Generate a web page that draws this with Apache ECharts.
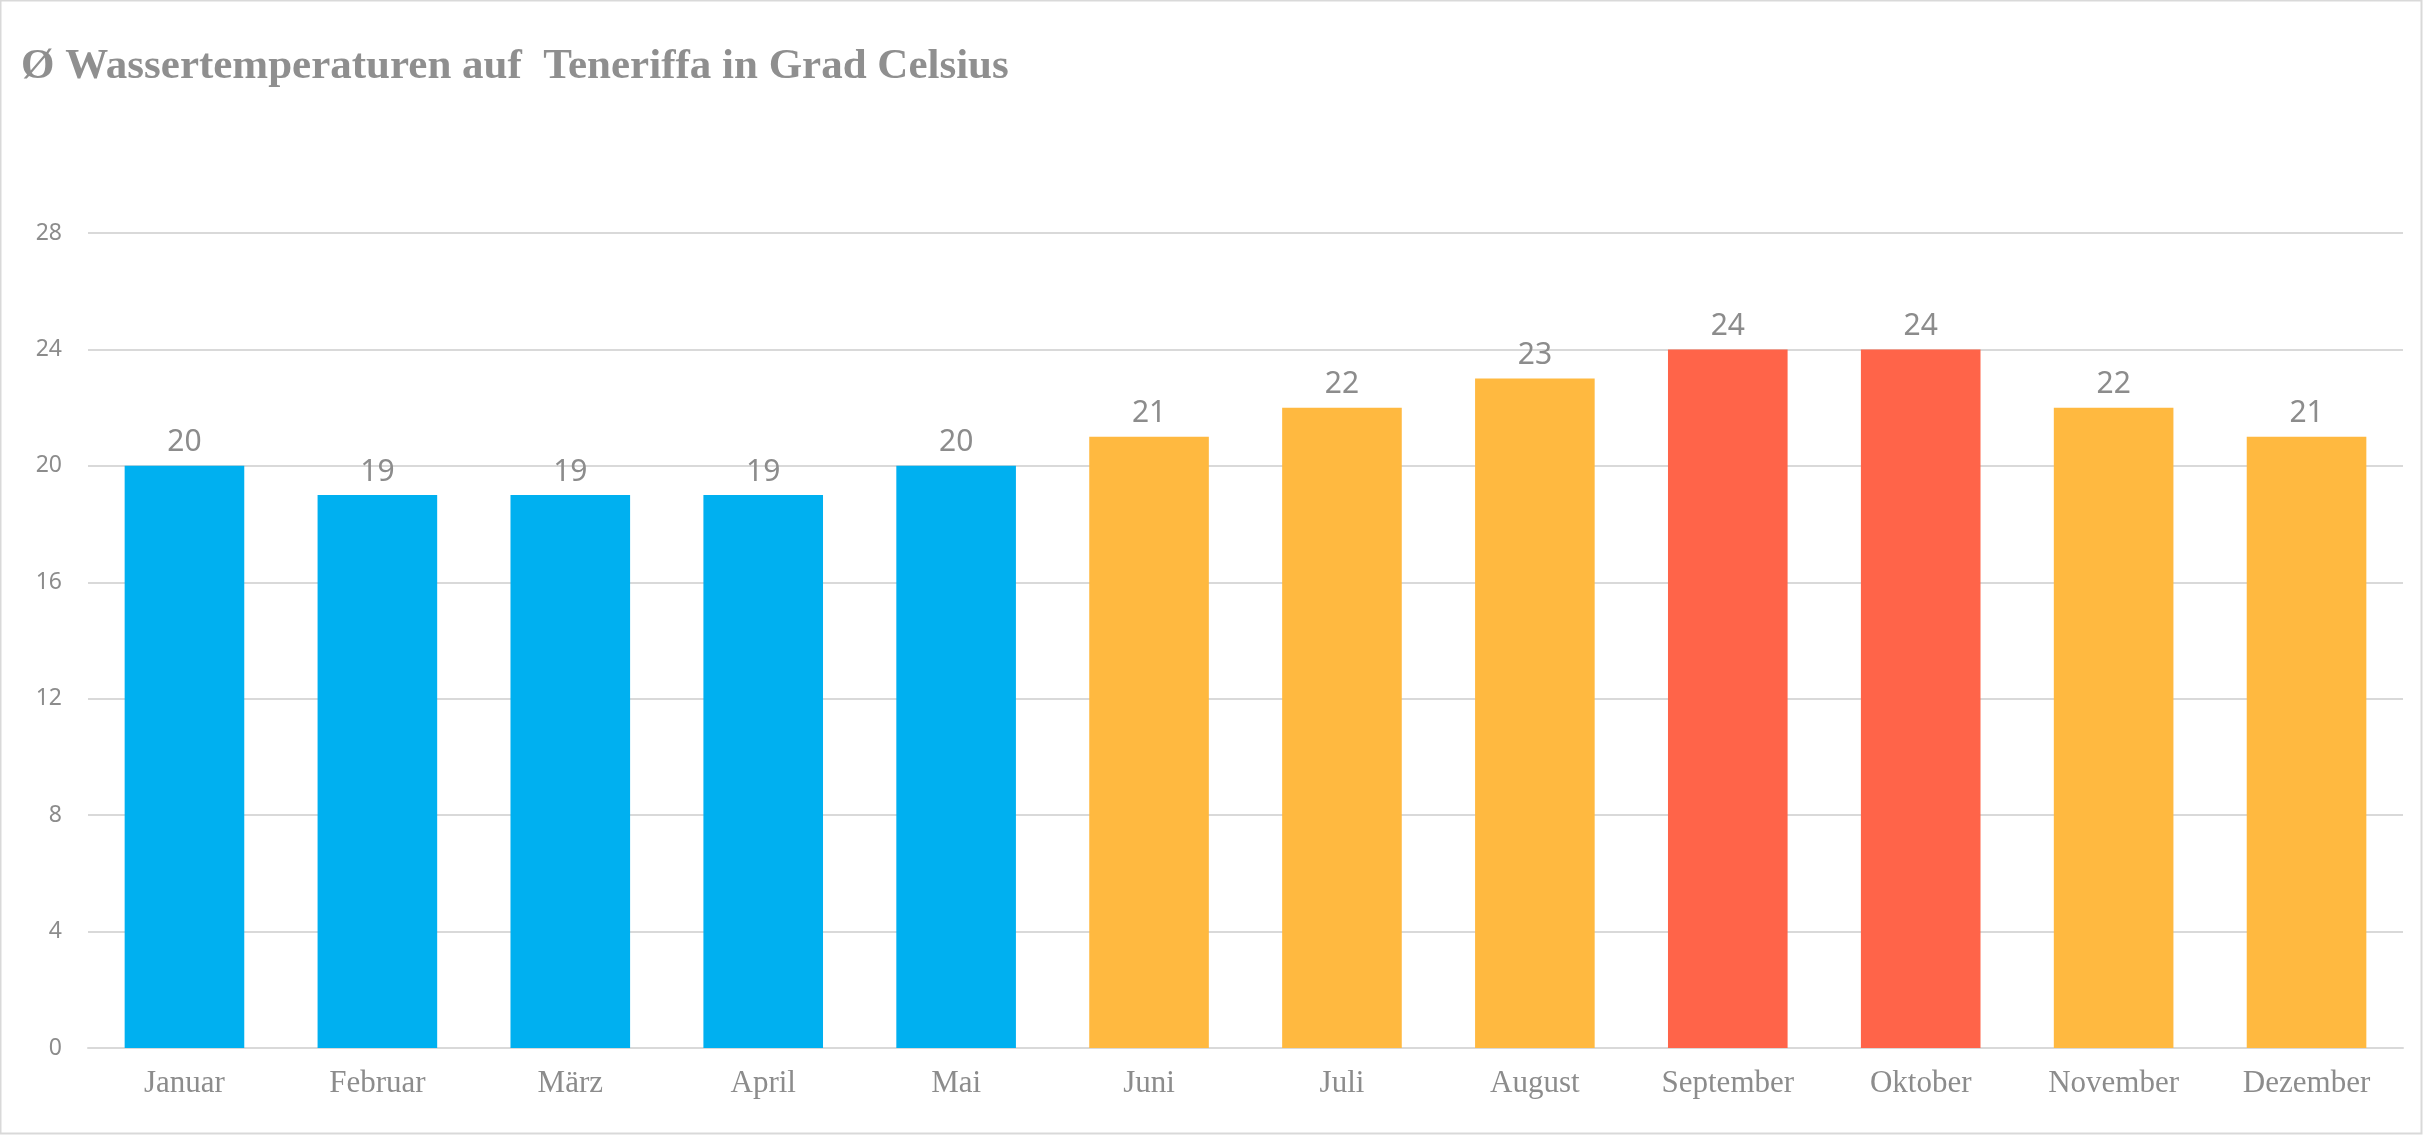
<!DOCTYPE html>
<html><head><meta charset="utf-8">
<script src="https://cdn.jsdelivr.net/npm/echarts@6/dist/echarts.min.js"></script>
<style>html,body{margin:0;padding:0;background:#fff}#c{width:2423px;height:1135px}</style>
</head><body><div id="c"></div>
<script>
const titleText = 'Ø Wassertemperaturen auf  Teneriffa in Grad Celsius';
const months = ['Januar','Februar','März','April','Mai','Juni','Juli','August','September','Oktober','November','Dezember'];
const temps = [20,19,19,19,20,21,22,23,24,24,22,21];
const yTicks = [0,4,8,12,16,20,24,28];

const chart = echarts.init(document.getElementById('c'));
chart.setOption({
  backgroundColor: '#fff',
  animation: false,
  title: {
    text: titleText, left: 16, top: 40,
    textStyle: {fontFamily: 'Liberation Serif', fontWeight: 'bold', fontSize: 43, color: '#8f8f8f'}
  },
  graphic: [{type: 'rect', shape: {x: 0.5, y: 0.5, width: 2421, height: 1133},
    style: {fill: 'none', stroke: '#d9d9d9', lineWidth: 2}, silent: true}],
  grid: {left: 88, right: 20, top: 233, bottom: 87},
  visualMap: {show: false, type: 'piecewise', dimension: 1,
    pieces: [{lte: 20, color: '#00B0F0'}, {gt: 20, lt: 24, color: '#FFB940'}, {gte: 24, color: '#FF6449'}]},
  xAxis: {type: 'category', data: months,
    axisLine: {lineStyle: {color: '#d9d9d9', width: 2}}, axisTick: {show: false},
    axisLabel: {fontFamily: 'Liberation Serif', fontSize: 31, color: '#8c8c8c', margin: 20}},
  yAxis: {type: 'value', min: yTicks[0], max: yTicks[yTicks.length-1], interval: 4,
    axisLine: {show: false}, axisTick: {show: false},
    splitLine: {lineStyle: {color: '#d9d9d9', width: 2}},
    axisLabel: {fontFamily: 'Noto Sans', fontSize: 23, color: '#8c8c8c', margin: 26}},
  series: [{type: 'bar', data: temps, barWidth: '62%',
    label: {show: true, position: 'top', distance: 8, fontFamily: 'Noto Sans', fontSize: 30, color: '#8c8c8c'}}]
});
</script></body></html>
